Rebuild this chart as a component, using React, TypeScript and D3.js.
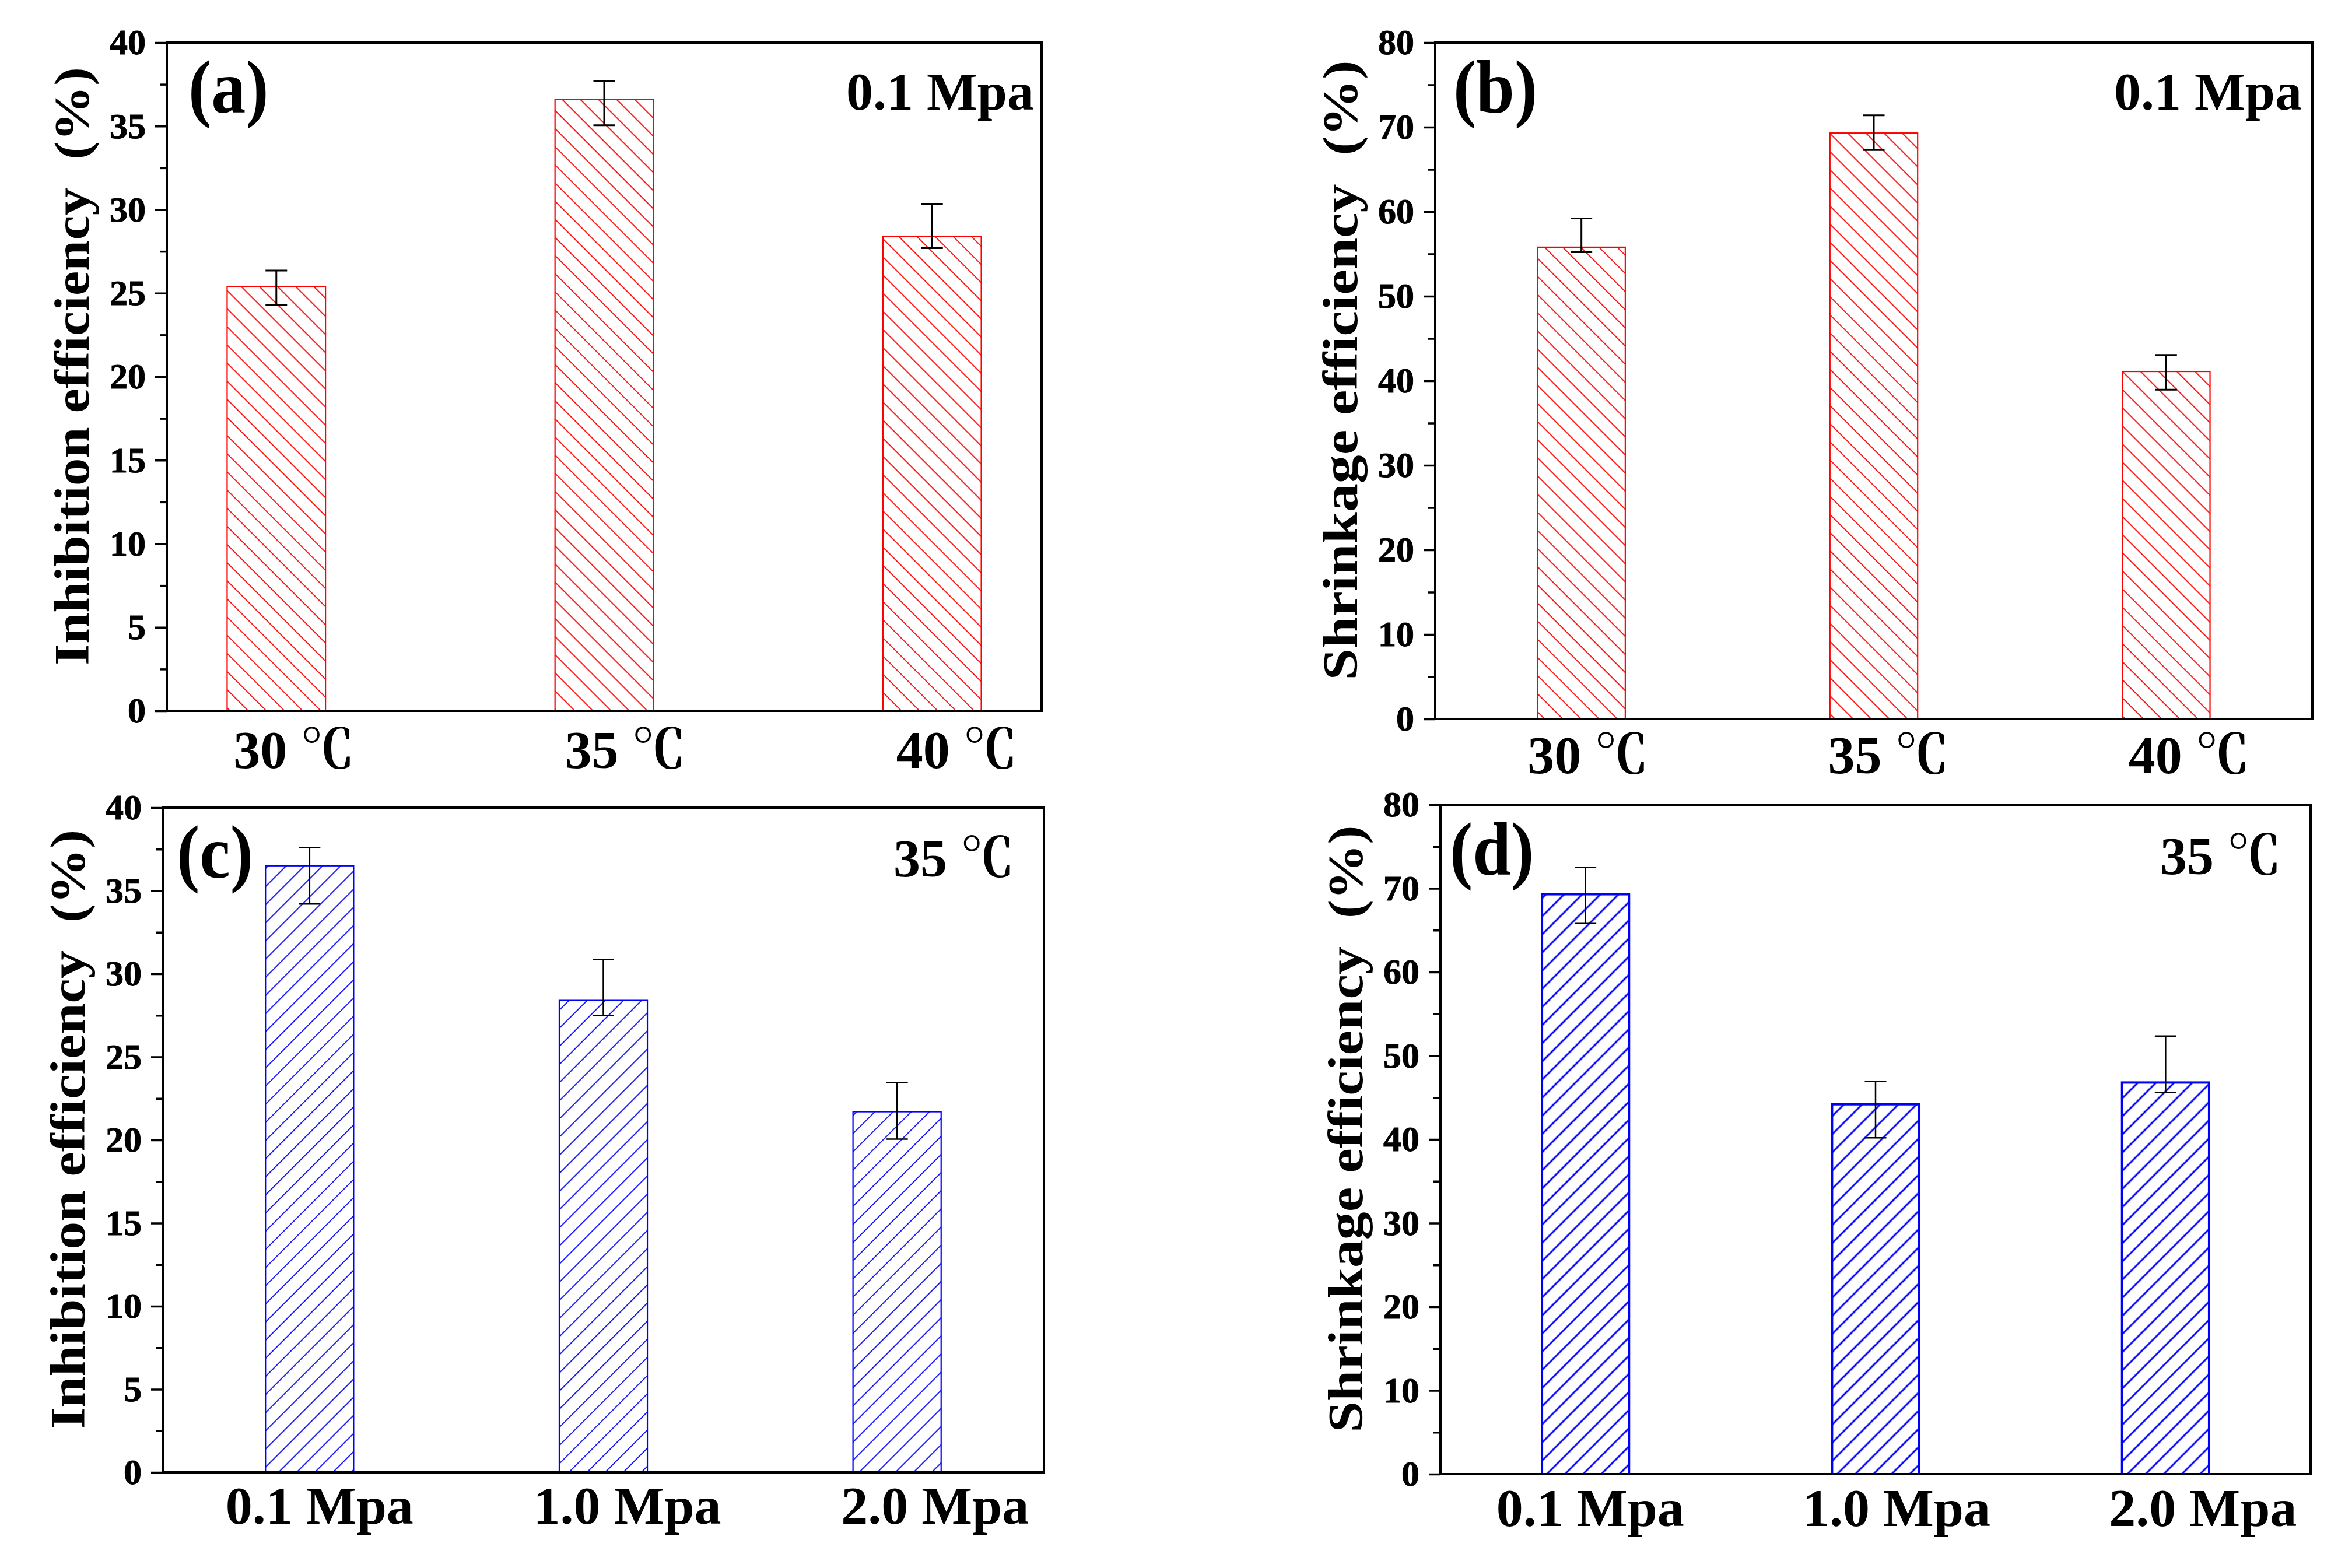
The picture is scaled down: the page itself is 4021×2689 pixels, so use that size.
import { useEffect, useRef } from "react"
import * as d3 from "d3"

const tempCats = ["30 ℃", "35 ℃", "40 ℃"]
const pressCats = ["0.1 Mpa", "1.0 Mpa", "2.0 Mpa"]

// (a) inhibition vs temperature
const inhibTemp = [25.4, 36.6, 28.4]
const inhibTempHi = [26.35, 37.7, 30.35]
const inhibTempLo = [24.3, 35.05, 27.7]

// (b) shrinkage vs temperature
const shrinkTemp = [55.8, 69.3, 41.1]
const shrinkTempHi = [59.2, 71.4, 43.05]
const shrinkTempLo = [55.2, 67.3, 38.95]

// (c) inhibition vs pressure
const inhibPress = [36.5, 28.4, 21.7]
const inhibPressHi = [37.6, 30.85, 23.45]
const inhibPressLo = [34.2, 27.5, 20.05]

// (d) shrinkage vs pressure
const shrinkPress = [69.3, 44.2, 46.8]
const shrinkPressHi = [72.5, 46.95, 52.35]
const shrinkPressLo = [65.8, 40.2, 45.6]

const ticks40 = [0, 5, 10, 15, 20, 25, 30, 35, 40]
const ticks80 = [0, 10, 20, 30, 40, 50, 60, 70, 80]

const SERIF = "'Liberation Serif', 'Times New Roman', 'Noto Serif CJK SC', 'Noto Sans CJK SC', serif"
const RED = "#ff0000"
const BLUE = "#0000ff"

const panels = [
  {
    key: "a", box: [286, 73, 1786, 1219], pad: 0.334,
    cats: tempCats, vals: inhibTemp, hi: inhibTempHi, lo: inhibTempLo, ticks: ticks40,
    title: "Inhibition efficiency\u00a0 (%)", titleLen: 1026, tag: "(a)", tagDx: 37,
    note: "0.1 Mpa", noteDx: 13, noteDy: 115,
    color: RED, angle: 45, hatchW: 1.8, borderW: 2.2, errW: 3, xlabDy: 98, labShift: [30, 6],
  },
  {
    key: "b", box: [2461, 73, 3965, 1233], pad: 0.5,
    cats: tempCats, vals: shrinkTemp, hi: shrinkTempHi, lo: shrinkTempLo, ticks: ticks80,
    title: "Shrinkage efficiency\u00a0 (%)", titleLen: 1063, tag: "(b)", tagDx: 31,
    note: "0.1 Mpa", noteDx: 18, noteDy: 115,
    color: RED, angle: 45, hatchW: 1.8, borderW: 2.2, errW: 3, xlabDy: 93, labShift: [11, 14],
  },
  {
    key: "c", box: [279, 1385, 1790, 2525], pad: 0.5,
    cats: pressCats, vals: inhibPress, hi: inhibPressHi, lo: inhibPressLo, ticks: ticks40,
    title: "Inhibition efficiency\u00a0 (%)", titleLen: 1028, tag: "(c)", tagDx: 24,
    note: "35 ℃", noteDx: 51, noteDy: 118,
    color: BLUE, angle: -45, hatchW: 1.8, borderW: 2.2, errW: 2.5, xlabDy: 88, labShift: [17, 24],
  },
  {
    key: "d", box: [2470, 1380, 3962, 2528], pad: 0.5,
    cats: pressCats, vals: shrinkPress, hi: shrinkPressHi, lo: shrinkPressLo, ticks: ticks80,
    title: "Shrinkage efficiency\u00a0 (%)", titleLen: 1041, tag: "(d)", tagDx: 16,
    note: "35 ℃", noteDx: 51, noteDy: 119,
    color: BLUE, angle: -45, hatchW: 3, borderW: 4, errW: 2.5, xlabDy: 89, labShift: [8, 28],
  },
]

export default function App() {
  const svgRef = useRef<SVGSVGElement>(null)

  useEffect(() => {
    if (!svgRef.current) return
    const svg = d3.select(svgRef.current)
    svg.selectAll("*").remove()

    svg.append("rect").attr("width", 4021).attr("height", 2689).attr("fill", "#fff")
    const defs = svg.append("defs")

    panels.forEach((p) => {
      const [x0, y0, x1, y1] = p.box
      const top = p.ticks[p.ticks.length - 1]
      const x = d3.scalePoint<string>().domain(p.cats).range([x0, x1]).padding(p.pad)
      const y = d3.scaleLinear().domain([0, top]).range([y1, y0])
      const bw = x.step() * 0.3
      const g = svg.append("g")

      // hatch pattern
      const pat = defs
        .append("pattern")
        .attr("id", `hatch-${p.key}`)
        .attr("patternUnits", "userSpaceOnUse")
        .attr("width", 22)
        .attr("height", 22)
        .attr("patternTransform", `rotate(${p.angle})`)
      pat.append("line")
        .attr("x1", -2).attr("x2", 24).attr("y1", 11).attr("y2", 11)
        .attr("stroke", p.color).attr("stroke-width", p.hatchW)

      // bars
      g.selectAll(".bar")
        .data(p.vals)
        .enter()
        .append("rect")
        .attr("x", (_, i) => (x(p.cats[i]) as number) - bw / 2)
        .attr("width", bw)
        .attr("y", (d) => y(d))
        .attr("height", (d) => y1 - y(d))
        .attr("fill", `url(#hatch-${p.key})`)
        .attr("stroke", p.color)
        .attr("stroke-width", p.borderW)

      // error bars
      p.vals.forEach((_, i) => {
        const cx = x(p.cats[i]) as number
        const eg = g.append("g").attr("stroke", "#000").attr("stroke-width", p.errW)
        eg.append("line").attr("x1", cx).attr("x2", cx).attr("y1", y(p.lo[i])).attr("y2", y(p.hi[i]))
        ;[p.lo[i], p.hi[i]].forEach((v) => {
          eg.append("line").attr("x1", cx - 18.5).attr("x2", cx + 18.5).attr("y1", y(v)).attr("y2", y(v))
        })
      })

      // frame
      g.append("rect")
        .attr("x", x0).attr("y", y0).attr("width", x1 - x0).attr("height", y1 - y0)
        .attr("fill", "none").attr("stroke", "#000").attr("stroke-width", 4)

      // y axis, major + minor ticks
      const minor = d3.pairs(p.ticks).map(([a, b]) => (a + b) / 2)
      const ax = g.append("g").attr("transform", `translate(${x0},0)`)
        .call(d3.axisLeft(y).tickValues(p.ticks).tickSize(20).tickPadding(16).tickFormat(d3.format("d")))
      ax.select(".domain").remove()
      ax.selectAll("line").attr("stroke-width", 3.5)
      ax.selectAll("text")
        .attr("font-family", SERIF).attr("font-weight", "bold").attr("font-size", 62).attr("fill", "#000")
        .attr("stroke", "#000").attr("stroke-width", 1)
      const mx = g.append("g").attr("transform", `translate(${x0},0)`)
        .call(d3.axisLeft(y).tickValues(minor).tickSize(12).tickFormat(() => ""))
      mx.select(".domain").remove()
      mx.selectAll("line").attr("stroke-width", 3.5)

      // x category labels
      g.selectAll(".xlab")
        .data(p.cats)
        .enter()
        .append("text")
        .attr("x", (d, i) => (x(d) as number) + p.labShift[0] + p.labShift[1] * i)
        .attr("y", y1 + p.xlabDy)
        .attr("text-anchor", "middle")
        .attr("font-family", SERIF)
        .attr("font-weight", "bold")
        .attr("font-size", 92)
        .text((d) => d)

      // y title
      g.append("g")
        .attr("transform", `translate(${x0 - 134},${(y0 + y1) / 2 - 18}) rotate(-90)`)
        .append("text")
        .attr("text-anchor", "middle")
        .attr("font-family", SERIF)
        .attr("font-weight", "bold")
        .attr("font-size", 84)
        .attr("textLength", p.titleLen)
        .attr("lengthAdjust", "spacingAndGlyphs")
        .text(p.title)

      // panel tag
      g.append("g")
        .attr("transform", `translate(${x0 + p.tagDx},${y0 + 120}) scale(1,1.1)`)
        .append("text")
        .attr("font-family", SERIF)
        .attr("font-weight", "bold")
        .attr("font-size", 118)
        .text(p.tag)

      // condition note
      g.append("text")
        .attr("x", x1 - p.noteDx)
        .attr("y", y0 + p.noteDy)
        .attr("text-anchor", "end")
        .attr("font-family", SERIF)
        .attr("font-weight", "bold")
        .attr("font-size", 92)
        .text(p.note)
    })
  }, [])

  return (
    <div style={{ position: "absolute", left: 0, top: 0 }}>
      <svg ref={svgRef} width={4021} height={2689} style={{ display: "block" }} />
    </div>
  )
}
